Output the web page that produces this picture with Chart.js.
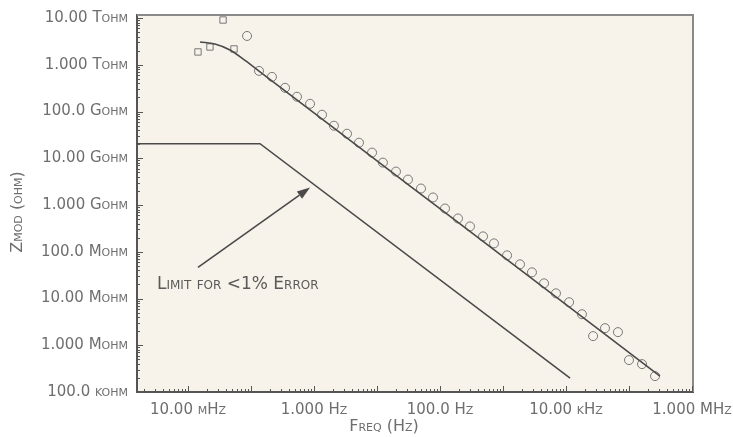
<!DOCTYPE html>
<html>
<head>
<meta charset="utf-8">
<script src="https://cdn.jsdelivr.net/npm/chart.js@4.4.1/dist/chart.umd.min.js"></script>
<style>
  html, body { margin: 0; padding: 0; background: #ffffff; }
  canvas { display: block; }
</style>
</head>
<body>
<canvas id="c" width="733" height="437"></canvas>
<script>
// ---- data ----
const freqHz = [0.0144, 0.0223, 0.0360, 0.0537, 0.0865, 0.134, 0.215, 0.347, 0.537, 0.865,
  1.34, 2.07, 3.34, 5.18, 8.34, 12.4, 20.0, 31.0, 49.9, 77.4,
  120, 193, 299, 482, 719, 1160, 1860, 2880, 4480, 6930,
  11200, 17900, 26900, 41600, 66800, 100000, 161000, 259000];
const zmodOhm = [1.88e12, 2.40e12, 9.06e12, 2.18e12, 4.13e12, 7.40e11, 5.51e11, 3.21e11, 2.07e11, 1.46e11,
  8.53e10, 4.97e10, 3.35e10, 2.15e10, 1.32e10, 8.07e9, 5.19e9, 3.50e9, 2.25e9, 1.45e9,
  8.41e8, 5.15e8, 3.48e8, 2.13e8, 1.51e8, 8.38e7, 5.38e7, 3.63e7, 2.11e7, 1.29e7,
  8.32e6, 4.61e6, 1.57e6, 2.32e6, 1.91e6, 4.82e5, 3.95e5, 2.19e5];
const markerShapes = ['rect', 'rect', 'rect', 'rect'];   // first points drawn as squares, rest circles

const fitFreq = [0.0155, 0.0268, 0.0464, 0.0803, 0.139, 5.37, 208, 310000];
const fitZ    = [3.07e12, 2.79e12, 2.07e12, 1.24e12, 7.05e11, 1.66e10, 3.94e8, 2.19e5];

const limitFreq = [1.55e-3, 0.139, 11600];
const limitZ    = [2.05e10, 2.05e10, 1.99e5];

const xTickValues = [1e-2, 1, 1e2, 1e4, 1e6];
const xTickLabels = ['10.00 mHz', '1.000 Hz', '100.0 Hz', '10.00 kHz', '1.000 MHz'];
const yTickValues = [1e5, 1e6, 1e7, 1e8, 1e9, 1e10, 1e11, 1e12, 1e13];
const yTickLabels = ['100.0 kohm', '1.000 Mohm', '10.00 Mohm', '100.0 Mohm', '1.000 Gohm',
  '10.00 Gohm', '100.0 Gohm', '1.000 Tohm', '10.00 Tohm'];

const xRange = [1.55e-3, 1.037e6];
const yRange = [1e5, 1.16e13];

const xTitle = 'Freq (Hz)';
const yTitle = 'Zmod (ohm)';
const noteText = 'Limit for <1% Error';
const noteAt = [3.22e-3, 2.01e7];
const arrowFrom = [0.0144, 4.64e7];
const arrowTo = [0.865, 2.36e9];

// ---- styling ----
const FAMILY = "'DejaVu Sans', sans-serif";
const LINE = '#4a4a4a';
const TEXT = '#6e6e6e';
const PLOT_BG = '#f7f3ea';

function sc(size) { return { family: FAMILY, size: size, weight: 'small-caps' }; }
function cssFont(size) { return 'small-caps ' + size + 'px ' + FAMILY; }

const bgPlugin = {
  id: 'bg',
  beforeDraw(chart) {
    const { ctx, chartArea: a } = chart;
    ctx.save();
    ctx.fillStyle = '#ffffff';
    ctx.fillRect(0, 0, chart.width, chart.height);
    ctx.fillStyle = PLOT_BG;
    ctx.fillRect(a.left, a.top, a.right - a.left, a.bottom - a.top);
    ctx.restore();
  }
};

const decorPlugin = {
  id: 'decor',
  afterDraw(chart) {
    const { ctx, chartArea: a, scales } = chart;
    const xs = scales.x, ys = scales.y;
    ctx.save();
    // top / right frame
    ctx.strokeStyle = '#8a8a8a';
    ctx.lineWidth = 2;
    ctx.beginPath();
    ctx.moveTo(a.left, a.top);
    ctx.lineTo(a.right, a.top);
    ctx.lineTo(a.right, a.bottom);
    ctx.stroke();

    // minor ticks along left and bottom axes
    ctx.strokeStyle = '#555';
    ctx.lineWidth = 1;
    ctx.beginPath();
    for (let d = -3; d <= 6; d++) {
      for (let m = 1; m <= 9; m++) {
        const v = m * Math.pow(10, d);
        if (v < xRange[0] || v > xRange[1]) continue;
        const px = Math.round(xs.getPixelForValue(v)) + 0.5;
        const len = m === 1 ? 6 : 3;
        ctx.moveTo(px, a.bottom);
        ctx.lineTo(px, a.bottom - len);
      }
    }
    for (let d = 5; d <= 13; d++) {
      for (let m = 1; m <= 9; m++) {
        const v = m * Math.pow(10, d);
        if (v < yRange[0] || v > yRange[1]) continue;
        const py = Math.round(ys.getPixelForValue(v)) + 0.5;
        const len = m === 1 ? 6 : 3;
        ctx.moveTo(a.left, py);
        ctx.lineTo(a.left + len, py);
      }
    }
    ctx.stroke();

    // arrow
    const x0 = xs.getPixelForValue(arrowFrom[0]), y0 = ys.getPixelForValue(arrowFrom[1]);
    const x1 = xs.getPixelForValue(arrowTo[0]), y1 = ys.getPixelForValue(arrowTo[1]);
    const ang = Math.atan2(y1 - y0, x1 - x0);
    const headLen = 13, headHalf = 4.5;
    const bx = x1 - headLen * Math.cos(ang), by = y1 - headLen * Math.sin(ang);
    ctx.strokeStyle = LINE;
    ctx.fillStyle = LINE;
    ctx.lineWidth = 1.6;
    ctx.beginPath();
    ctx.moveTo(x0, y0);
    ctx.lineTo(bx, by);
    ctx.stroke();
    ctx.beginPath();
    ctx.moveTo(x1, y1);
    ctx.lineTo(bx + headHalf * Math.sin(ang), by - headHalf * Math.cos(ang));
    ctx.lineTo(bx - headHalf * Math.sin(ang), by + headHalf * Math.cos(ang));
    ctx.closePath();
    ctx.fill();

    // note text
    ctx.fillStyle = '#5a5a5a';
    ctx.font = cssFont(17);
    ctx.textAlign = 'left';
    ctx.textBaseline = 'middle';
    ctx.fillText(noteText, xs.getPixelForValue(noteAt[0]), ys.getPixelForValue(noteAt[1]));

    // axis titles
    ctx.fillStyle = TEXT;
    ctx.font = cssFont(16);
    ctx.textAlign = 'center';
    ctx.textBaseline = 'middle';
    ctx.fillText(xTitle, 384, 427);
    ctx.translate(18, 212);
    ctx.rotate(-Math.PI / 2);
    ctx.fillText(yTitle, 0, 0);
    ctx.restore();
  }
};

new Chart(document.getElementById('c').getContext('2d'), {
  type: 'scatter',
  data: {
    datasets: [
      {
        label: 'Limit',
        data: limitFreq.map((f, i) => ({ x: f, y: limitZ[i] })),
        showLine: true, pointRadius: 0, borderColor: LINE, borderWidth: 1.6, tension: 0
      },
      {
        label: 'Fit',
        data: fitFreq.map((f, i) => ({ x: f, y: fitZ[i] })),
        showLine: true, pointRadius: 0, borderColor: LINE, borderWidth: 1.6,
        cubicInterpolationMode: 'monotone'
      },
      {
        label: 'Zmod',
        data: freqHz.map((f, i) => ({ x: f, y: zmodOhm[i] })),
        showLine: false,
        pointStyle: freqHz.map((f, i) => markerShapes[i] || 'circle'),
        pointRadius: 4.5,
        borderColor: '#787878',
        borderWidth: 1,
        backgroundColor: 'rgba(0,0,0,0)'
      }
    ]
  },
  options: {
    responsive: false,
    animation: false,
    devicePixelRatio: 1,
    layout: { padding: { top: 15, right: 40, left: 0, bottom: 0 } },
    plugins: { legend: { display: false }, tooltip: { enabled: false } },
    scales: {
      x: {
        type: 'logarithmic',
        min: xRange[0], max: xRange[1],
        afterBuildTicks(s) { s.ticks = xTickValues.map(v => ({ value: v })); },
        afterFit(s) { s.height = 45; s.paddingLeft = 0; s.paddingRight = 0; },
        grid: { display: false, drawTicks: false },
        border: { display: true, color: '#555', width: 2 },
        ticks: {
          callback: (v, i) => xTickLabels[i],
          padding: 9, font: sc(15), color: TEXT, autoSkip: false, maxRotation: 0
        }
      },
      y: {
        type: 'logarithmic',
        min: yRange[0], max: yRange[1],
        afterBuildTicks(s) { s.ticks = yTickValues.map(v => ({ value: v })); },
        afterFit(s) { s.width = 137; s.paddingTop = 0; s.paddingBottom = 0; },
        grid: { display: false, drawTicks: false },
        border: { display: true, color: '#555', width: 2 },
        ticks: {
          callback: (v, i) => yTickLabels[i],
          padding: 9, font: sc(15), color: TEXT, autoSkip: false
        }
      }
    }
  },
  plugins: [bgPlugin, decorPlugin]
});
</script>
</body>
</html>
